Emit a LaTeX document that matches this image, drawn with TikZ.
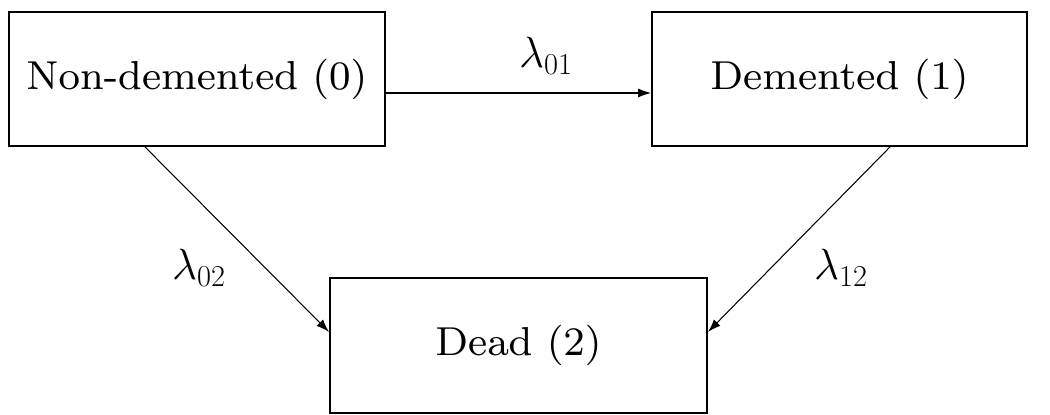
\documentclass[tikz,border=0pt]{standalone}
\usetikzlibrary{arrows.meta}
\font\statefont=cmr8 at 23pt
\begin{document}
\begin{tikzpicture}[x=0.02cm,y=-0.02cm,
  state/.style={draw,line width=1.1pt,rectangle,inner sep=0pt,minimum height=2.68cm,font=\statefont},
  trans/.style={line width=0.6pt,-{Latex[length=2.6mm,width=1.8mm]}},
  rate/.style={font=\fontsize{23}{28}\selectfont,inner sep=0pt}]
\useasboundingbox (0,0) rectangle (1050,415);
\node[state,minimum width=7.52cm] (n0) at (197,79) {Non-demented (0)};
\node[state,minimum width=7.50cm] (n1) at (839.5,79) {Demented (1)};
\node[state,minimum width=7.54cm,minimum height=2.70cm] (n2) at (518.5,345.5) {Dead (2)};
\draw[trans] ([yshift=-0.28cm]n0.east) -- ([yshift=-0.28cm]n1.west);
\draw[trans] ([xshift=-1.04cm]n0.south) -- ([yshift=0.27cm]n2.west);
\draw[trans] ([xshift=1.01cm]n1.south) -- ([yshift=0.27cm]n2.east);
\node[rate] (l01) at (546,56) {$\lambda_{01}$};
\node[rate] (l02) at (199,268) {$\lambda_{02}$};
\node[rate] (l12) at (841,268) {$\lambda_{12}$};
\end{tikzpicture}
\end{document}
